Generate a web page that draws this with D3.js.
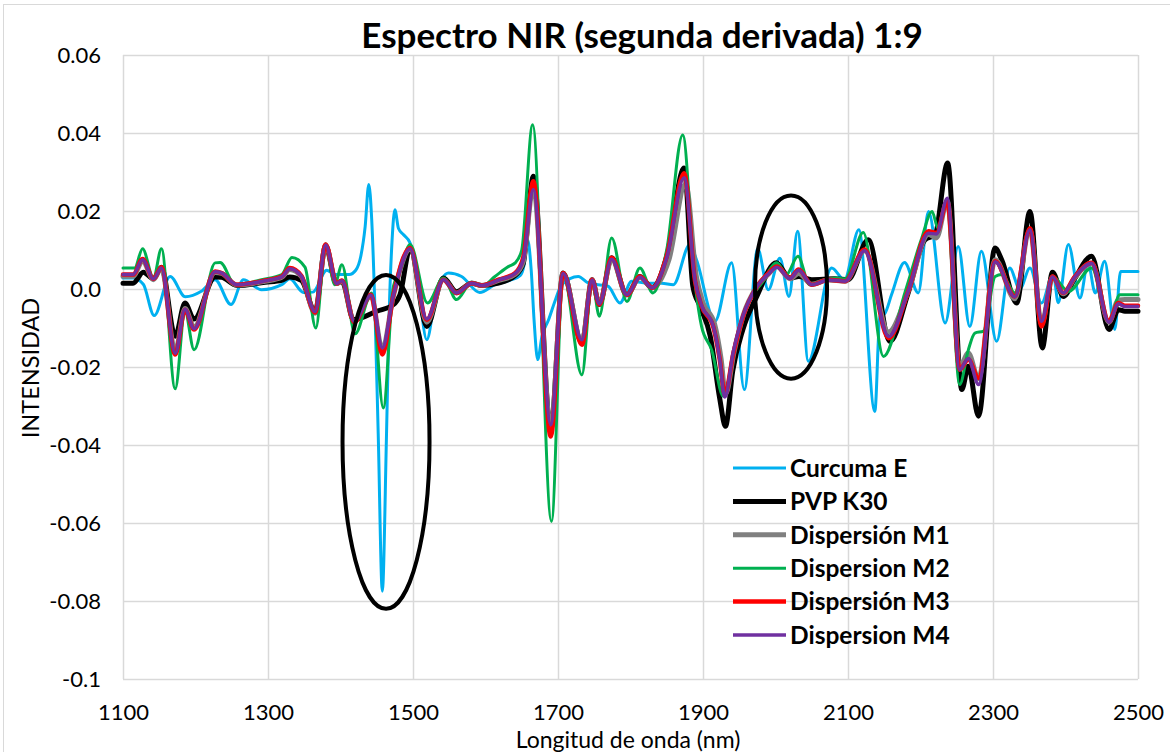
<!DOCTYPE html>
<html>
<head>
<meta charset="utf-8">
<script src="https://cdn.jsdelivr.net/npm/d3@7"></script>
<style>
  body { margin: 0; background: #fff; }
  svg { display: block; }
  text { font-family: Lato, "Liberation Sans", sans-serif; fill: #000; }
</style>
</head>
<body>
<svg id="chart" width="1170" height="752"></svg>
<script>
// ---- Axis ticks ----
const xTicks = [1100, 1300, 1500, 1700, 1900, 2100, 2300, 2500];
const yTicks = [-0.1, -0.08, -0.06, -0.04, -0.02, 0, 0.02, 0.04, 0.06];
const yTickLabels = ["-0.1", "-0.08", "-0.06", "-0.04", "-0.02", "0.0", "0.02", "0.04", "0.06"];

// ---- Second-derivative NIR spectra: [wavelength nm, intensity] ----
const curcumaE = [[1100,0.0028],[1114,0.0028],[1128,0.0012],[1143,-0.0068],[1165,0.0032],[1186,-0.002],[1208,-0.0006],[1227,0.0024],[1249,-0.004],[1266,0.0024],[1291,-0.0002],[1319,0.0011],[1330,0.0026],[1349,-0.0009],[1362,-0.0008],[1381,0.0048],[1392,0.0037],[1412,0.0037],[1421,0.0048],[1428,0.0084],[1434,0.016],[1439,0.0268],[1443,0.018],[1447,-0.002],[1452,-0.037],[1457.7,-0.0775],[1463.5,-0.037],[1467.5,-0.004],[1471,0.012],[1475,0.0203],[1480,0.0155],[1487,0.0139],[1496,0.0118],[1506,0.003],[1519,-0.013],[1531,-0.002],[1549,0.0041],[1567,0.0032],[1592,-0.0009],[1613,0.0011],[1636,0.0024],[1648,0.0035],[1653,0.006],[1658,0.0126],[1663,0.005],[1667,-0.008],[1672,-0.0181],[1678,-0.012],[1687,-0.0079],[1696,-0.003],[1705,0.0011],[1728,0.0032],[1742,0.0015],[1769,0.0007],[1785.5,-0.0036],[1801.6,0.002],[1825,0.0015],[1843,0.0015],[1859,0.0011],[1882,0.0114],[1891,0.0075],[1916.5,-0.0083],[1939.5,0.0067],[1957,-0.0258],[1975.4,0.0103],[1990,-0.0002],[2006,0.0079],[2018.6,-0.0019],[2030.5,0.0148],[2045.3,-0.0185],[2077.4,0.0054],[2095,0.0024],[2115,0.0152],[2137,-0.0314],[2144,-0.007],[2151,-0.0062],[2160,-0.0015],[2178,0.0068],[2197,-0.001],[2211,0.0199],[2234,-0.0087],[2252,0.0109],[2268,-0.0096],[2284,0.0097],[2305,-0.0134],[2323,0.0054],[2337,0.0],[2351,0.0054],[2367,-0.0036],[2383,0.0041],[2390,-0.0035],[2404,0.0114],[2420,-0.0023],[2431,0.0067],[2441,-0.001],[2454,0.0071],[2468,-0.0104],[2476,0.0045],[2500,0.0045]];

const pvpK30 = [[1100,0.0015],[1114,0.0015],[1128,0.0043],[1142,0.0026],[1153,0.0056],[1172,-0.0121],[1185.5,-0.0036],[1198,-0.0077],[1227,0.0031],[1236,0.003],[1257,0.0009],[1296,0.0017],[1319,0.0022],[1330,0.0031],[1346,0.0022],[1365,-0.0057],[1379.5,0.0111],[1394,0.0014],[1402,0.002],[1418,-0.0079],[1450,-0.0057],[1473,-0.004],[1482,-0.0015],[1496,0.0103],[1519,-0.0096],[1542,0.0028],[1560,-0.0007],[1581,0.0015],[1595,0.0009],[1618,0.0015],[1641,0.0035],[1652,0.0065],[1666,0.0289],[1690,-0.036],[1707,0.0041],[1733,-0.0138],[1747,0.0024],[1757,-0.004],[1774,0.008],[1795,-0.0015],[1813,0.0032],[1830,0.0003],[1850,0.0084],[1874,0.031],[1886,0.0007],[1896,-0.0045],[1910,-0.0121],[1923,-0.028],[1931,-0.0352],[1941,-0.021],[1955,-0.0104],[1974,-0.002],[2001,0.0067],[2020,0.0028],[2032,0.0032],[2050,0.0024],[2082,0.0026],[2100,0.0024],[2128,0.0126],[2158,-0.0134],[2183,-0.001],[2206,0.0126],[2220,0.0139],[2237.4,0.0323],[2257,-0.0258],[2266,-0.0198],[2280,-0.0326],[2302.7,0.0105],[2312,0.0075],[2332.6,-0.0036],[2351,0.0199],[2368,-0.0151],[2382,0.0043],[2397,-0.0019],[2413,0.0028],[2436,0.0084],[2460,-0.0104],[2473,-0.0053],[2482,-0.0057],[2500,-0.0057]];

const dispersionM1 = [[1100,0.0033],[1114,0.0033],[1127,0.0072],[1142,0.0024],[1153,0.0054],[1172,-0.016],[1185.5,-0.005],[1198,-0.0098],[1227,0.0042],[1236,0.004],[1257,0.001],[1296,0.002],[1319,0.003],[1330,0.005],[1346,0.0032],[1365,-0.0062],[1379.5,0.0112],[1394.7,0.0014],[1402,0.002],[1419,-0.0083],[1442,-0.0017],[1457.7,-0.0155],[1473,-0.0017],[1496,0.0102],[1519,-0.0085],[1542,0.0024],[1560,-0.001],[1581,0.0015],[1595,0.0009],[1618,0.0022],[1641,0.0038],[1652,0.007],[1666,0.0262],[1690,-0.036],[1707,0.004],[1733,-0.0135],[1747,0.0023],[1757,-0.0038],[1774,0.0076],[1795,-0.0015],[1813,0.003],[1830,0.0003],[1853,0.0075],[1876,0.027],[1891,0.003],[1900,-0.0035],[1916,-0.009],[1925,-0.018],[1931,-0.027],[1943,-0.016],[1956,-0.0065],[1974,0.0005],[1990,0.0038],[2002,0.0058],[2020,0.0026],[2032,0.004],[2050,0.0012],[2073,0.0023],[2096,0.002],[2123,0.0098],[2156,-0.011],[2183,-0.0006],[2211,0.014],[2222,0.0131],[2237,0.0225],[2254,-0.02],[2266,-0.0164],[2280,-0.023],[2303,0.0075],[2330,-0.0025],[2351,0.0152],[2367,-0.009],[2382,0.0031],[2397,-0.0012],[2413,0.003],[2436,0.0066],[2460,-0.0085],[2473,-0.0028],[2482,-0.0027],[2500,-0.0027]];

const dispersionM2 = [[1100,0.0054],[1116,0.0054],[1127,0.0103],[1142,0.0028],[1153,0.0103],[1172,-0.0256],[1185.5,-0.0057],[1198,-0.0156],[1227,0.0067],[1234,0.0068],[1255,0.001],[1291,0.0024],[1319,0.0037],[1333,0.0081],[1351,0.0056],[1366,-0.01],[1379.5,0.0116],[1392,0.0011],[1402,0.0062],[1420,-0.0115],[1443,-0.001],[1459,-0.0305],[1473,0.0007],[1482,0.0045],[1496,0.0114],[1520,-0.0036],[1542,0.0028],[1560,-0.0027],[1581,0.0017],[1595,0.0007],[1613,0.0032],[1632,0.0058],[1641,0.0067],[1650,0.01],[1665,0.0421],[1691,-0.0596],[1707,0.0041],[1733,-0.022],[1747,0.0024],[1757,-0.007],[1774,0.0131],[1795,-0.0032],[1813,0.0054],[1831,-0.001],[1850,0.0101],[1872,0.0395],[1889,0.0015],[1898,-0.0096],[1912,-0.0156],[1928,-0.0275],[1946,-0.013],[1962,-0.0036],[1981,0.0015],[2002,0.0067],[2015,0.0037],[2031,0.0084],[2047,0.0011],[2064,0.002],[2082,0.0028],[2096,0.0026],[2121,0.0145],[2149,-0.0173],[2179,-0.0006],[2201,0.0126],[2216,0.0199],[2224,0.0156],[2236,0.0225],[2254,-0.0245],[2266,-0.0156],[2275,-0.0113],[2287,-0.0108],[2303,0.0032],[2312,0.0037],[2330,-0.001],[2351,0.0152],[2367,-0.0096],[2382,0.0032],[2404,-0.0006],[2436,0.0054],[2460,-0.0083],[2475,-0.0015],[2500,-0.0015]];

const dispersionM3 = [[1100,0.0037],[1114,0.0037],[1127,0.0077],[1142,0.0026],[1153,0.0056],[1172,-0.0168],[1185.5,-0.0053],[1198,-0.0104],[1227,0.0045],[1236,0.0041],[1257,0.0011],[1296,0.0022],[1319,0.0032],[1330,0.0054],[1346,0.0034],[1365,-0.006],[1379.5,0.0114],[1394.7,0.0014],[1402,0.0022],[1419,-0.0085],[1442,-0.0015],[1457.7,-0.0168],[1473,-0.0015],[1496,0.0105],[1519,-0.0079],[1542,0.0024],[1560,-0.001],[1581,0.0015],[1595,0.0009],[1618,0.0024],[1641,0.0041],[1652,0.008],[1666,0.0276],[1690,-0.0378],[1707,0.0041],[1733,-0.0143],[1747,0.0024],[1757,-0.004],[1774,0.008],[1795,-0.0015],[1813,0.0032],[1830,0.0003],[1850,0.0084],[1874,0.0297],[1889,0.002],[1898,-0.0044],[1914,-0.0096],[1923,-0.018],[1930,-0.0271],[1942,-0.0164],[1955,-0.0072],[1974,0.0005],[1990,0.004],[2002,0.0058],[2020,0.0028],[2032,0.005],[2050,0.0011],[2073,0.0024],[2096,0.002],[2123,0.0101],[2156,-0.0126],[2183,-0.0006],[2211,0.0148],[2222,0.0144],[2237,0.0225],[2254,-0.0207],[2266,-0.0181],[2280,-0.0228],[2303,0.0071],[2330,-0.0019],[2351,0.0156],[2367,-0.0096],[2382,0.0032],[2397,-0.001],[2413,0.0032],[2436,0.0067],[2460,-0.0083],[2473,-0.0036],[2482,-0.0043],[2500,-0.0043]];

const dispersionM4 = [[1100,0.0037],[1114,0.0037],[1127,0.0075],[1142,0.0026],[1153,0.0054],[1172,-0.0165],[1185.5,-0.0052],[1198,-0.0102],[1227,0.0044],[1236,0.0041],[1257,0.0011],[1296,0.0021],[1319,0.0031],[1330,0.0052],[1346,0.0033],[1365,-0.0058],[1379.5,0.0113],[1394.7,0.0014],[1402,0.0021],[1419,-0.0083],[1442,-0.0016],[1457.7,-0.0151],[1473,-0.0016],[1496,0.0103],[1519,-0.0077],[1542,0.0024],[1560,-0.001],[1581,0.0015],[1595,0.0009],[1618,0.0023],[1641,0.004],[1652,0.0075],[1666,0.0255],[1690,-0.0348],[1707,0.004],[1733,-0.013],[1747,0.0023],[1757,-0.0038],[1774,0.0076],[1795,-0.0015],[1813,0.003],[1830,0.0003],[1850,0.008],[1874,0.0285],[1889,0.0022],[1898,-0.0042],[1914,-0.0094],[1923,-0.018],[1930,-0.0277],[1942,-0.016],[1955,-0.007],[1974,0.0005],[1990,0.0038],[2002,0.0056],[2020,0.0027],[2032,0.0048],[2050,0.0011],[2073,0.0023],[2096,0.002],[2123,0.0098],[2156,-0.0122],[2183,-0.0006],[2211,0.0143],[2222,0.0141],[2237,0.0233],[2254,-0.0207],[2266,-0.0178],[2280,-0.0245],[2303,0.007],[2330,-0.002],[2351,0.0152],[2367,-0.0083],[2382,0.0031],[2397,-0.001],[2413,0.0031],[2436,0.0066],[2460,-0.0085],[2473,-0.0038],[2482,-0.0045],[2500,-0.0045]];

const seriesNames = ["Curcuma E", "PVP K30", "Dispersión M1", "Dispersion M2", "Dispersión M3", "Dispersion M4"];

// Highlighted regions (centre and half-axes in data units)
const markedBands = [
  { nm: 1462.8, val: -0.0392, halfNm: 60, halfVal: 0.0428 },
  { nm: 2021.4, val: 0.0005, halfNm: 49.7, halfVal: 0.0235 }
];

// ---- Styling ----
const styles = [
  { color: "#00B0F0", width: 3 },
  { color: "#000000", width: 5 },
  { color: "#808080", width: 5 },
  { color: "#00B050", width: 3 },
  { color: "#FF0000", width: 4.5 },
  { color: "#7030A0", width: 3.5 }
];
const seriesData = [curcumaE, pvpK30, dispersionM1, dispersionM2, dispersionM3, dispersionM4];

const svg = d3.select("#chart");
const plotLeft = 123, plotRight = 1138, plotTop = 55, plotBottom = 679;

const x = d3.scaleLinear().domain([1100, 2500]).range([plotLeft, plotRight]);
const y = d3.scaleLinear().domain([-0.1, 0.06]).range([plotBottom, plotTop]);

// Chart frame
svg.append("rect")
  .attr("x", 3.5).attr("y", 4.5).attr("width", 1200).attr("height", 800)
  .attr("fill", "#fff").attr("stroke", "#d9d9d9").attr("stroke-width", 1);

// Horizontal grid + y labels
const yAxis = svg.append("g")
  .attr("transform", `translate(${plotLeft},0)`)
  .call(d3.axisLeft(y).tickValues(yTicks).tickSize(-(plotRight - plotLeft)).tickPadding(22)
    .tickFormat((d, i) => yTickLabels[i]));
yAxis.select(".domain").remove();
yAxis.selectAll("line").attr("stroke", "#d9d9d9").attr("stroke-width", 1.5);
yAxis.selectAll("text").attr("font-size", 22).attr("font-family", "Lato").attr("fill", "#000");

// Vertical grid + x labels
const xAxis = svg.append("g")
  .attr("transform", `translate(0,${plotBottom})`)
  .call(d3.axisBottom(x).tickValues(xTicks).tickSize(-(plotBottom - plotTop)).tickPadding(25)
    .tickFormat(d3.format("d")));
xAxis.select(".domain").remove();
xAxis.selectAll("line").attr("stroke", "#d9d9d9").attr("stroke-width", 1.5);
xAxis.selectAll("text").attr("font-size", 22).attr("font-family", "Lato").attr("fill", "#000");

// Spectra
const line = d3.line()
  .x(d => x(d[0]))
  .y(d => y(d[1]))
  .curve(d3.curveMonotoneX);

svg.append("g").selectAll("path")
  .data(seriesData)
  .join("path")
  .attr("d", d => line(d))
  .attr("fill", "none")
  .attr("stroke", (d, i) => styles[i].color)
  .attr("stroke-width", (d, i) => styles[i].width)
  .attr("stroke-linejoin", "round")
  .attr("stroke-linecap", "round");

// Highlight ellipses
svg.append("g").selectAll("ellipse")
  .data(markedBands)
  .join("ellipse")
  .attr("cx", d => x(d.nm))
  .attr("cy", d => y(d.val))
  .attr("rx", d => x(d.nm + d.halfNm) - x(d.nm))
  .attr("ry", d => y(d.val - d.halfVal) - y(d.val))
  .attr("fill", "none")
  .attr("stroke", "#000")
  .attr("stroke-width", 4);

// Title
svg.append("text")
  .attr("x", 642).attr("y", 48)
  .attr("text-anchor", "middle")
  .attr("font-size", 35).attr("font-weight", "bold")
  .text("Espectro NIR (segunda derivada) 1:9");

// Axis titles
svg.append("text")
  .attr("x", 628).attr("y", 748)
  .attr("text-anchor", "middle")
  .attr("font-size", 23)
  .text("Longitud de onda (nm)");

svg.append("text")
  .attr("transform", "translate(39,368) rotate(-90)")
  .attr("text-anchor", "middle")
  .attr("font-size", 23.5)
  .text("INTENSIDAD");

// Legend
const legend = svg.append("g").attr("transform", "translate(733,468)");
const rows = legend.selectAll("g")
  .data(seriesNames)
  .join("g")
  .attr("transform", (d, i) => `translate(0,${i * 33.4})`);
rows.append("line")
  .attr("x1", 0).attr("x2", 53).attr("y1", 0).attr("y2", 0)
  .attr("stroke", (d, i) => styles[i].color)
  .attr("stroke-width", (d, i) => styles[i].width);
rows.append("text")
  .attr("x", 57).attr("y", 0).attr("dy", "0.36em")
  .attr("font-size", 24.5).attr("font-weight", "bold")
  .text(d => d);
</script>
</body>
</html>
